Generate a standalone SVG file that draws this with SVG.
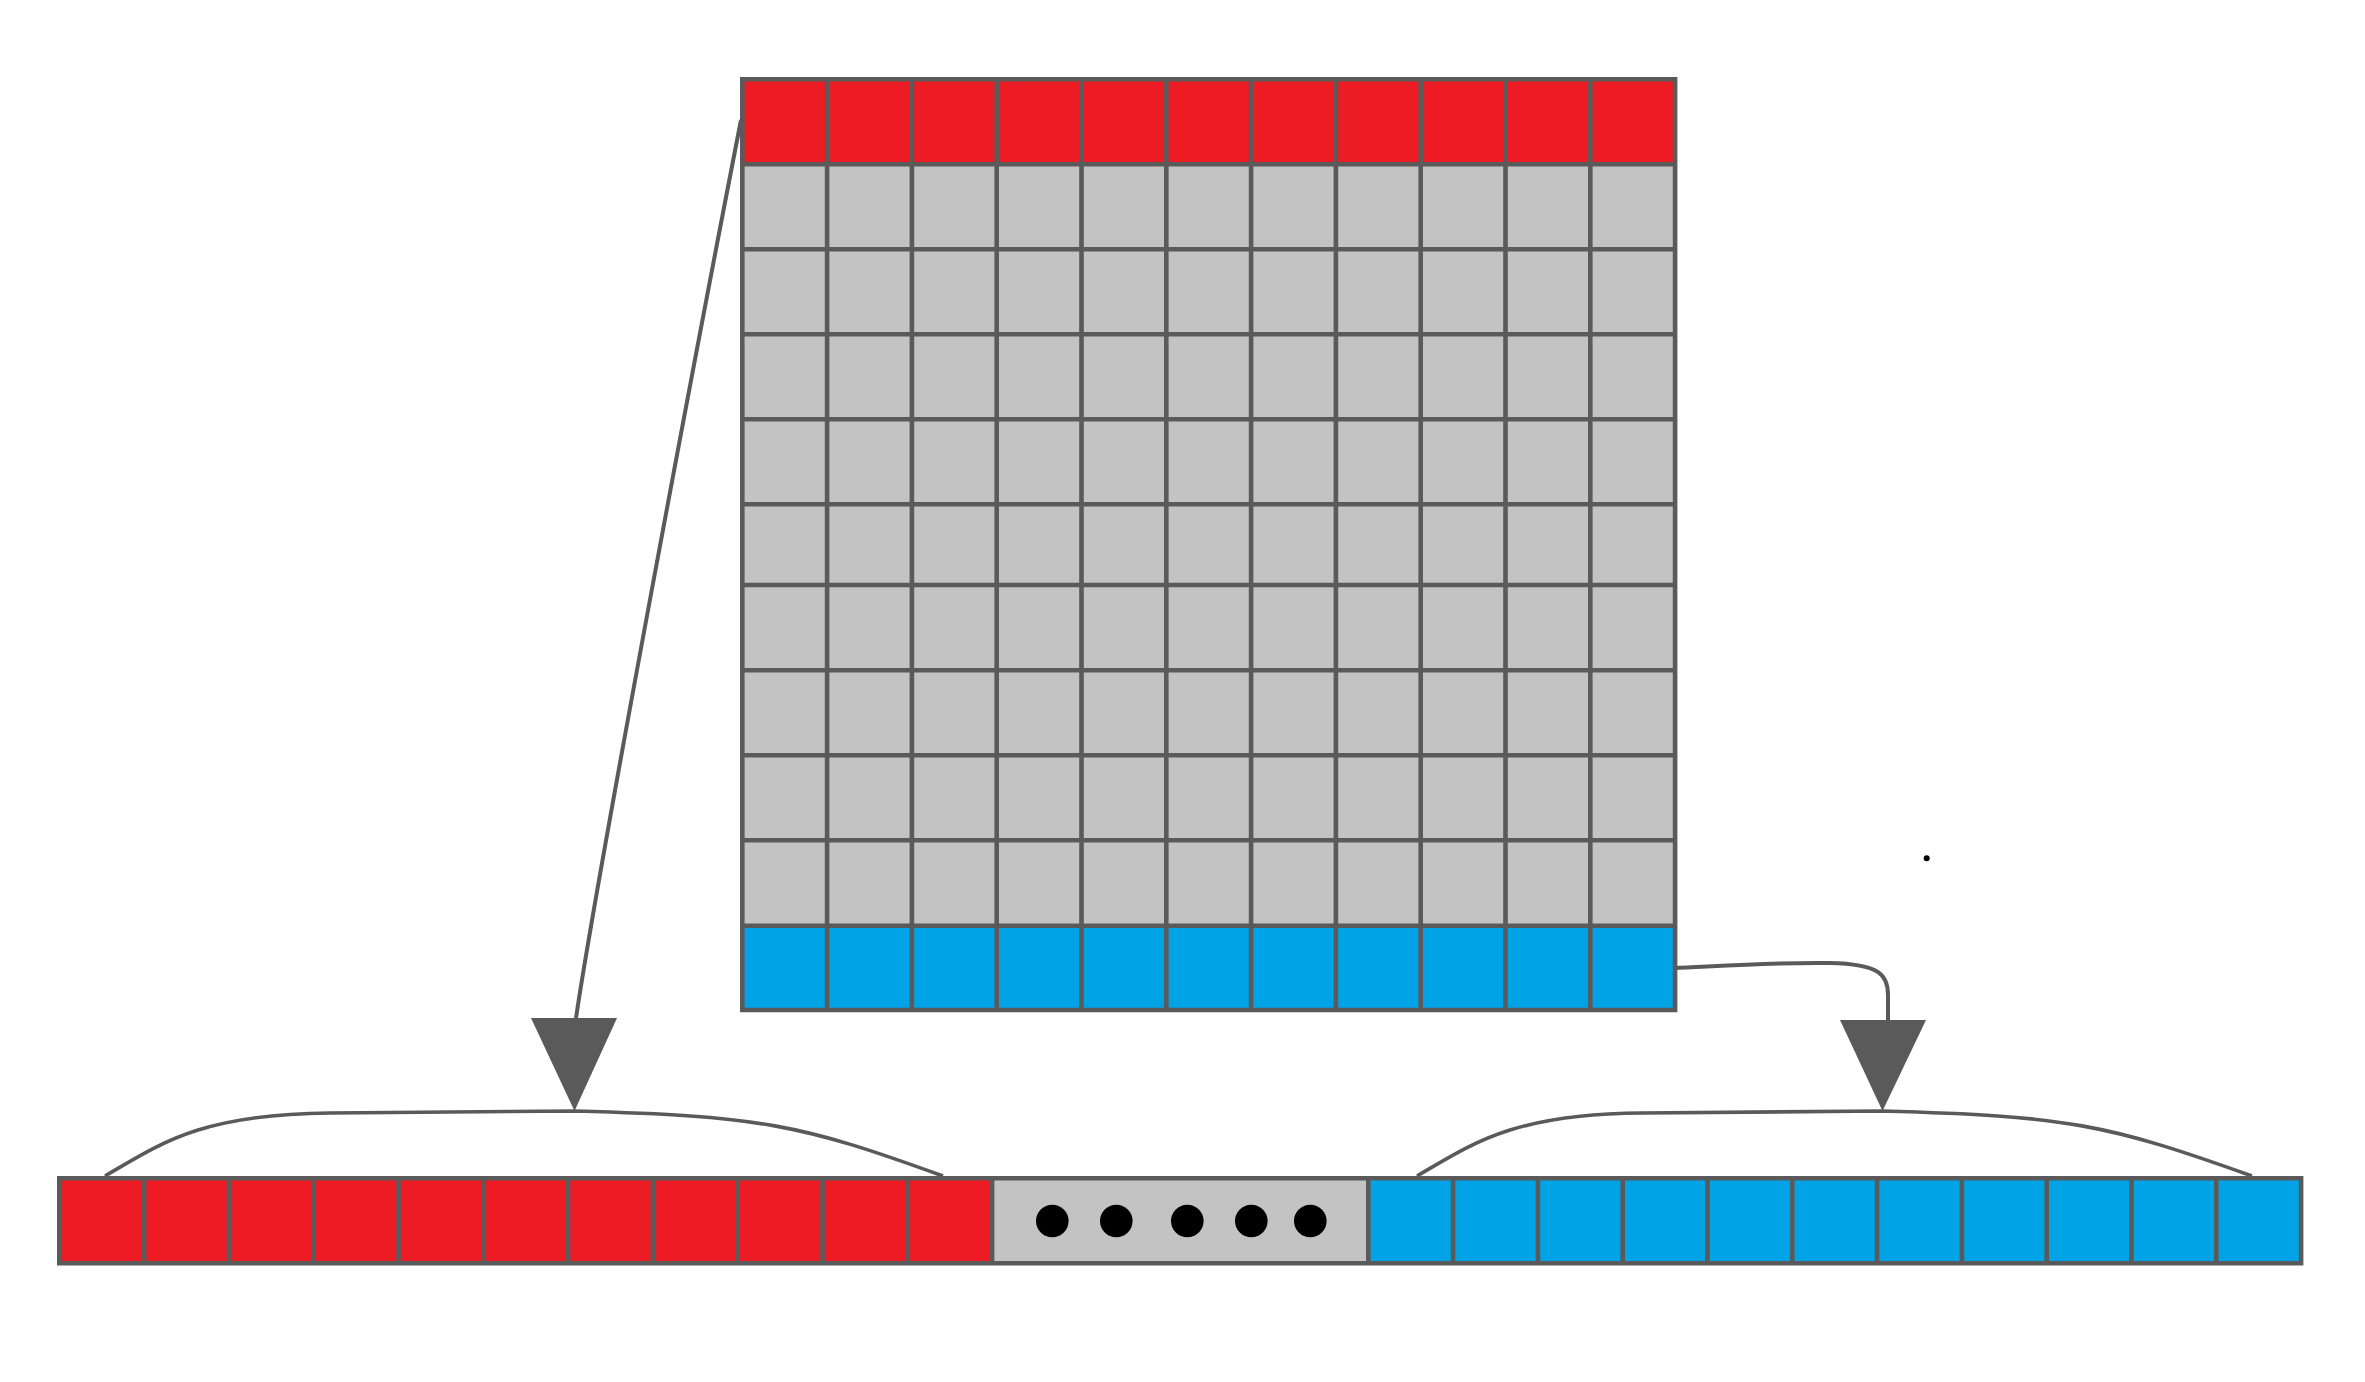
<svg xmlns="http://www.w3.org/2000/svg" width="2365" height="1382" viewBox="0 0 2365 1382">
<style>
.red{fill:#ED1C24}
.gray{fill:#C3C3C3}
.blue{fill:#00A3E6}
.grid{fill:none;stroke:#5A5A5A;stroke-width:4.6;stroke-linecap:square}
.conn{fill:none;stroke:#5A5A5A;stroke-width:4}
.brace{fill:none;stroke:#5A5A5A;stroke-width:3.6}
.head{fill:#5A5A5A}
.dot{fill:#000}
</style>
<rect width="2365" height="1382" fill="#fff"/>
<g id="matrix">
<rect class="red" x="742.3" y="79.3" width="932.8" height="85"/>
<rect class="gray" x="742.3" y="164.3" width="932.8" height="761.4"/>
<rect class="blue" x="742.3" y="925.7" width="932.8" height="84.3"/>
<path class="grid" d="M742.3,79.3H1675.1V1010H742.3Z
M827.1,79.3V1010M911.9,79.3V1010M996.7,79.3V1010M1081.5,79.3V1010M1166.3,79.3V1010M1251.1,79.3V1010M1335.9,79.3V1010M1420.7,79.3V1010M1505.5,79.3V1010M1590.3,79.3V1010
M742.3,164.3H1675.1M742.3,249.3H1675.1M742.3,334.3H1675.1M742.3,419.3H1675.1M742.3,504.3H1675.1M742.3,585H1675.1M742.3,670.3H1675.1M742.3,755.3H1675.1M742.3,840.3H1675.1M742.3,925.7H1675.1"/>
</g>
<g id="vector">
<rect class="red" x="59.3" y="1178.3" width="932.8" height="85"/>
<rect class="gray" x="992.1" y="1178.3" width="376.2" height="85"/>
<rect class="blue" x="1368.3" y="1178.3" width="932.8" height="85"/>
<path class="grid" d="M59.3,1178.3H2301.1V1263.3H59.3Z
M144.1,1178.3V1263.3M228.9,1178.3V1263.3M313.7,1178.3V1263.3M398.5,1178.3V1263.3M483.3,1178.3V1263.3M568.1,1178.3V1263.3M652.9,1178.3V1263.3M737.7,1178.3V1263.3M822.5,1178.3V1263.3M907.3,1178.3V1263.3M992.1,1178.3V1263.3
M1368.3,1178.3V1263.3M1453.1,1178.3V1263.3M1537.9,1178.3V1263.3M1622.7,1178.3V1263.3M1707.5,1178.3V1263.3M1792.3,1178.3V1263.3M1877.1,1178.3V1263.3M1961.9,1178.3V1263.3M2046.7,1178.3V1263.3M2131.5,1178.3V1263.3M2216.3,1178.3V1263.3"/>
<circle class="dot" cx="1052.3" cy="1221" r="16.3"/>
<circle class="dot" cx="1116.3" cy="1221" r="16.3"/>
<circle class="dot" cx="1187.3" cy="1221" r="16.3"/>
<circle class="dot" cx="1251.3" cy="1221" r="16.3"/>
<circle class="dot" cx="1310.3" cy="1221" r="16.3"/>
</g>
<g id="connectors">
<path class="conn" d="M741,120 C700,330 598,870 576,1018"/>
<polygon class="head" points="531,1018 617,1018 574.5,1111"/>
<path class="conn" d="M1674,968 C1720,966 1780,962 1830,963 C1880,964 1888,975 1888,995 L1888,1021"/>
<polygon class="head" points="1840,1020 1926,1020 1882.5,1111"/>
<path class="brace" d="M105,1176 C160,1144 200,1114 330,1113 L575,1111 C760,1116 800,1124 943,1176"/>
<path class="brace" d="M1417,1176 C1472,1144 1512,1114 1642,1113 L1882,1111 C2067,1116 2107,1124 2252,1176"/>
</g>
<circle class="dot" cx="1926.7" cy="858.3" r="3"/>
</svg>
